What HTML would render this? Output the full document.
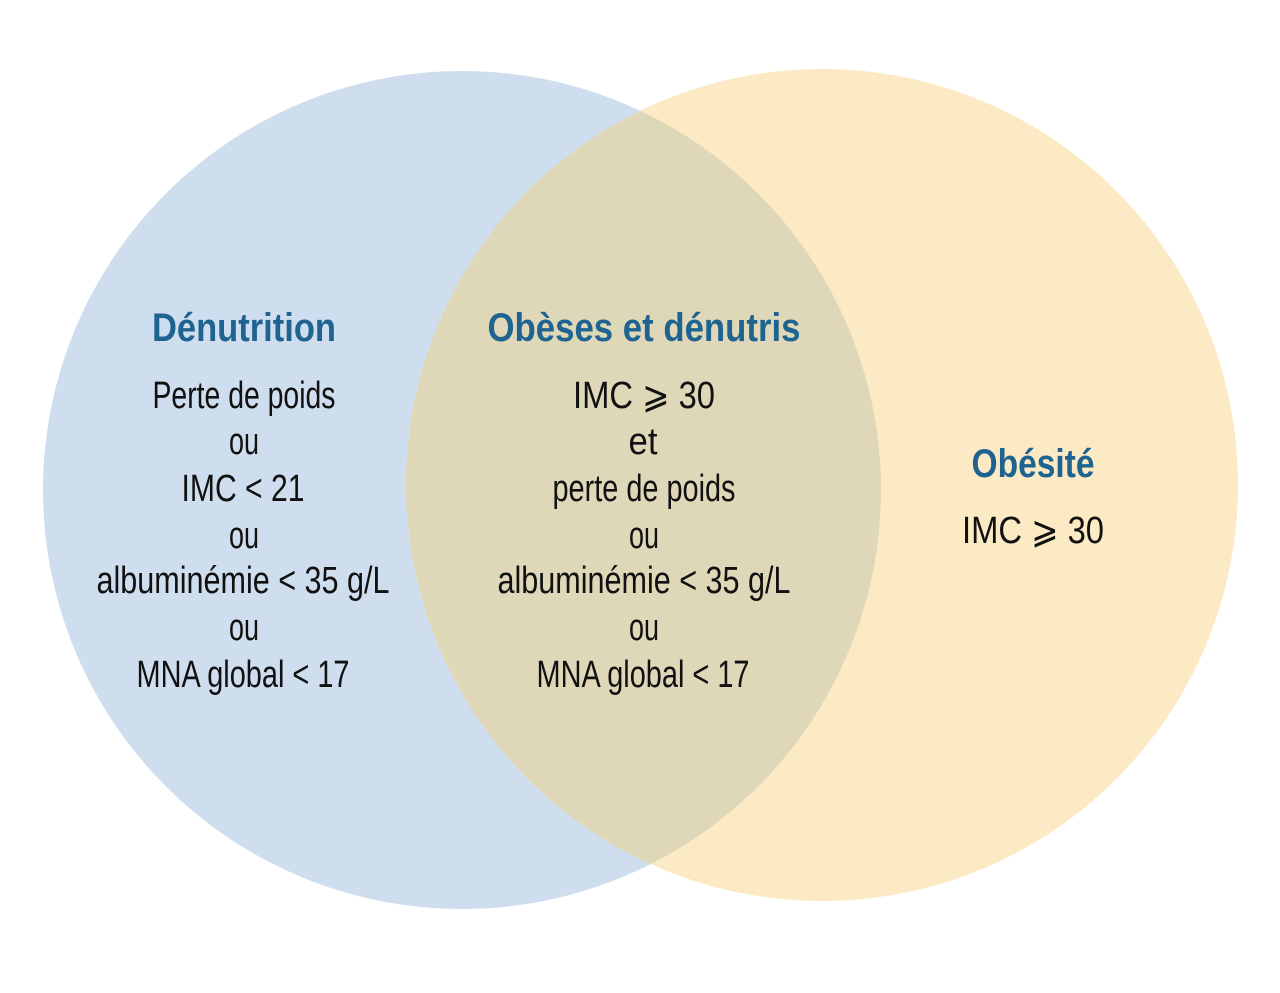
<!DOCTYPE html>
<html><head><meta charset="utf-8"><style>
html,body{margin:0;padding:0;background:#fff;}
svg{display:block}
text{font-family:"Liberation Sans Narrow","Liberation Sans",sans-serif;text-anchor:middle;}
.t{font-weight:bold;fill:#1f6391;font-size:40px;}
.b{fill:#111;font-size:38px;}
</style></head><body>
<svg width="1280" height="993" viewBox="0 0 1280 993">
<defs><clipPath id="cl"><circle cx="462" cy="490" r="419"/></clipPath></defs>
<circle cx="462" cy="490" r="419" fill="#cfdeee"/>
<circle cx="822" cy="485" r="416" fill="#fbeac3"/>
<circle cx="822" cy="485" r="416" fill="#dfd8b8" clip-path="url(#cl)"/>
<text class="t" x="244" y="341" textLength="184" lengthAdjust="spacingAndGlyphs">Dénutrition</text>
<text class="b" x="244" y="408" textLength="183" lengthAdjust="spacingAndGlyphs">Perte de poids</text>
<text class="b" x="244" y="454" textLength="30" lengthAdjust="spacingAndGlyphs">ou</text>
<text class="b" x="243" y="501" textLength="123" lengthAdjust="spacingAndGlyphs">IMC &lt; 21</text>
<text class="b" x="244" y="548" textLength="30" lengthAdjust="spacingAndGlyphs">ou</text>
<text class="b" x="243" y="593" textLength="293" lengthAdjust="spacingAndGlyphs">albuminémie &lt; 35 g/L</text>
<text class="b" x="244" y="640" textLength="30" lengthAdjust="spacingAndGlyphs">ou</text>
<text class="b" x="243" y="687" textLength="213" lengthAdjust="spacingAndGlyphs">MNA global &lt; 17</text>

<text class="t" x="644" y="341" textLength="313" lengthAdjust="spacingAndGlyphs">Obèses et dénutris</text>
<text class="b" x="644" y="408" textLength="142" lengthAdjust="spacingAndGlyphs">IMC ⩾ 30</text>
<text class="b" x="643" y="454" textLength="29" lengthAdjust="spacingAndGlyphs">et</text>
<text class="b" x="644" y="501" textLength="183" lengthAdjust="spacingAndGlyphs">perte de poids</text>
<text class="b" x="644" y="548" textLength="30" lengthAdjust="spacingAndGlyphs">ou</text>
<text class="b" x="644" y="593" textLength="293" lengthAdjust="spacingAndGlyphs">albuminémie &lt; 35 g/L</text>
<text class="b" x="644" y="640" textLength="30" lengthAdjust="spacingAndGlyphs">ou</text>
<text class="b" x="643" y="687" textLength="213" lengthAdjust="spacingAndGlyphs">MNA global &lt; 17</text>

<text class="t" x="1033" y="477" textLength="123" lengthAdjust="spacingAndGlyphs">Obésité</text>
<text class="b" x="1033" y="543" textLength="142" lengthAdjust="spacingAndGlyphs">IMC ⩾ 30</text>
</svg>
</body></html>
